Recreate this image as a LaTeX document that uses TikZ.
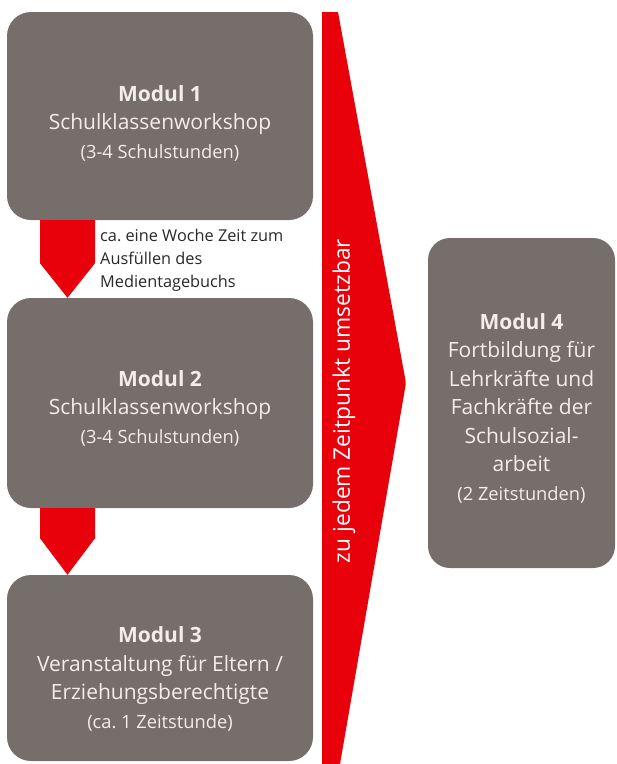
\documentclass[tikz,border=0pt]{standalone}
\usepackage{fontspec}
\usetikzlibrary{calc}
\setmainfont{Open Sans}
\definecolor{boxgrey}{RGB}{117,110,106}
\definecolor{boxtext}{RGB}{242,238,234}
\definecolor{redc}{RGB}{232,0,10}
\definecolor{labeltext}{RGB}{40,40,40}
\tikzset{
  modbox/.style={fill=boxgrey, rounded corners=24pt, inner sep=0pt},
  modtext/.style={text=boxtext, align=center, inner sep=0pt, font=\fontsize{21}{28.5}\selectfont},
  redshape/.style={fill=redc, draw=none},
  sidelabel/.style={text=labeltext, align=left, inner sep=0pt, font=\fontsize{16.3}{23}\selectfont},
}
\newcommand{\mtitle}[1]{{\bfseries #1}}
\newcommand{\msmall}[1]{{\fontsize{18.3}{28.5}\selectfont #1}}
\begin{document}
\frenchspacing
\begin{tikzpicture}[x=1pt,y=-1pt]
\useasboundingbox (0,0) rectangle (617,764);
% red time wedge
\fill[redshape] (322,12) -- (338,12) [rounded corners=3pt]-- (406,383) [sharp corners]-- (340,764) -- (322,764) -- cycle;
\node[rotate=90, text=white, font=\fontsize{22.8}{24}\selectfont, inner sep=0pt] (wedge) at (344,401) {zu jedem Zeitpunkt umsetzbar};
% boxes
\node[modbox, minimum width=306pt, minimum height=208pt] (m1) at (160,116) {};
\node[modbox, minimum width=306pt, minimum height=210pt] (m2) at (160,403) {};
\node[modbox, minimum width=306pt, minimum height=186pt] (m3) at (160,668) {};
\node[modbox, rounded corners=22pt, minimum width=187pt, minimum height=330pt] (m4) at (521.5,403) {};
% box texts
\node[modtext] (t1) at ($(m1.center)+(0,7)$)
  {\mtitle{Modul 1}\\Schulklassenworkshop\\\msmall{(3-4 Schulstunden)}};
\node[modtext] (t2) at ($(m2.center)+(0,5)$)
  {\mtitle{Modul 2}\\Schulklassenworkshop\\\msmall{(3-4 Schulstunden)}};
\node[modtext] (t3) at ($(m3.center)+(0,11)$)
  {\mtitle{Modul 3}\\Veranstaltung für Eltern /\\Erziehungsberechtigte\\\msmall{(ca. 1 Zeitstunde)}};
\node[modtext] (t4) at ($(m4.center)+(0,5)$)
  {\mtitle{Modul 4}\\Fortbildung für\\Lehrkräfte und\\Fachkräfte der\\Schulsozial-\\arbeit\\\msmall{(2 Zeitstunden)}};
% down arrows between modules
\coordinate (ax) at (67.5,0);
\coordinate (a1) at (m1.south -| ax);
\coordinate (a2) at (m2.south -| ax);
\fill[redshape] ($(a1)+(-27.5,0)$) -- ($(a1)+(27.5,0)$) -- ($(a1)+(27.5,43)$) -- (m2.north -| a1) -- ($(a1)+(-27.5,43)$) -- cycle;
\fill[redshape] ($(a2)+(-27.5,0)$) -- ($(a2)+(27.5,0)$) -- ($(a2)+(27.5,30)$) -- (m3.north -| a2) -- ($(a2)+(-27.5,30)$) -- cycle;
\node[sidelabel, anchor=north west] (note) at (100,229) {ca. eine Woche Zeit zum\\Ausfüllen des\\Medientagebuchs};
\end{tikzpicture}
\end{document}
